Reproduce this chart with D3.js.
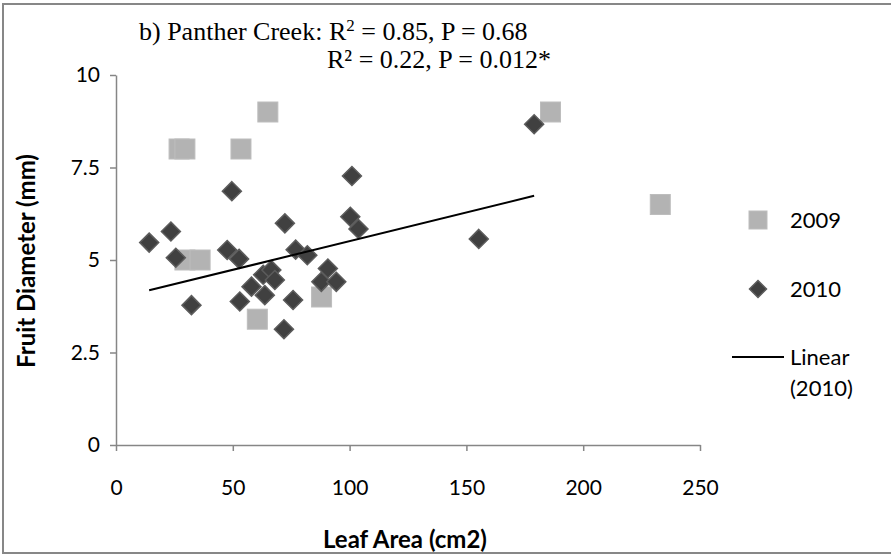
<!DOCTYPE html>
<html><head><meta charset="utf-8">
<script src="https://cdn.jsdelivr.net/npm/d3@7"></script>
<style>
body{margin:0;background:#fff;}
svg{display:block;}
</style></head>
<body>
<svg id="chart" width="891" height="556"></svg>
<script>
// ---- data ----
const leafArea2009 = [27, 29.5, 53.5, 65, 29.5, 36, 60.5, 88, 186, 233];
const fruitDiam2009 = [8, 8, 8, 9, 5, 5, 3.4, 4, 9, 6.5];

const leafArea2010 = [14.2, 23.5, 25.6, 32.3, 47.6, 49.6, 52.7, 53, 58, 63, 63.7, 66.5, 68, 71.9, 72.3, 75.8, 76.9, 81.9, 87.9, 90.7, 94.3, 100.3, 101, 103.8, 155.3, 179];
const fruitDiam2010 = [5.47, 5.77, 5.06, 3.78, 5.27, 6.86, 5.03, 3.88, 4.28, 4.6, 4.05, 4.73, 4.46, 3.13, 5.99, 3.92, 5.28, 5.13, 4.41, 4.77, 4.41, 6.17, 7.27, 5.84, 5.57, 8.67];

const trendIntercept = [3.96];
const trendSlope = [0.0155];

const xTicks = [0, 50, 100, 150, 200, 250];
const yTicks = [0, 2.5, 5, 7.5, 10];
const legendLabels = ["2009", "2010", "Linear", "(2010)"];

// ---- chart ----
const svg = d3.select("#chart");
const axisColor = "#868686";
const sansFont = "Lato, 'Open Sans', sans-serif";

// outer frame (right edge falls outside the picture)
svg.append("rect").attr("x", 3).attr("y", 4).attr("width", 900).attr("height", 549)
  .attr("fill", "none").attr("stroke", "#878787").attr("stroke-width", 2);

const x = d3.scaleLinear().domain([0, 250]).range([116, 700]);
const y = d3.scaleLinear().domain([0, 10]).range([445, 75]);

// axes
const xAxis = d3.axisBottom(x).tickValues(xTicks).tickSize(6).tickSizeOuter(0).tickPadding(29).tickFormat(d3.format("d"));
const yAxis = d3.axisLeft(y).tickValues(yTicks).tickSize(6).tickSizeOuter(0).tickPadding(10).tickFormat(d => String(d));

const gx = svg.append("g").attr("transform", `translate(0,${y(0)})`).call(xAxis);
const gy = svg.append("g").attr("transform", `translate(${x(0)},0)`).call(yAxis);
[gx, gy].forEach(g => {
  g.select(".domain").attr("stroke", axisColor).attr("stroke-width", 1.5);
  g.selectAll(".tick line").attr("stroke", axisColor).attr("stroke-width", 1.5);
  g.selectAll(".tick text").attr("fill", "#000").style("font-family", sansFont).style("font-size", "21px");
});

// axis titles
svg.append("text").attr("x", 323).attr("y", 548).attr("text-anchor", "start")
  .style("font-family", sansFont).style("font-size", "24px").style("font-weight", "bold")
  .text("Leaf Area (cm2)");
svg.append("text").attr("transform", "translate(35,261) rotate(-90)").attr("text-anchor", "middle")
  .style("font-family", sansFont).style("font-size", "24px").style("font-weight", "bold")
  .text("Fruit Diameter (mm)");

// title
const serif = "'Liberation Serif', 'Times New Roman', serif";
const t1 = svg.append("text").attr("x", 139).attr("y", 40)
  .style("font-family", serif).style("font-size", "26px").attr("fill", "#000");
t1.append("tspan").text("b) Panther Creek: R");
t1.append("tspan").attr("dy", -9).style("font-size", "17px").text("2");
t1.append("tspan").attr("dy", 9).text(" = 0.85, P = 0.68");
svg.append("text").attr("x", 327).attr("y", 68)
  .style("font-family", serif).style("font-size", "26px").attr("fill", "#000")
  .text("R² = 0.22, P = 0.012*");

// 2009 squares
const sq = 20;
svg.append("g").selectAll("rect").data(leafArea2009.map((v, i) => [v, fruitDiam2009[i]]))
  .join("rect")
  .attr("x", d => x(d[0]) - sq / 2).attr("y", d => y(d[1]) - sq / 2)
  .attr("width", sq).attr("height", sq)
  .attr("fill", "#b3b3b3").attr("stroke", "#bdbdbd").attr("stroke-width", 1);

// 2010 diamonds
const dm = 9.5;
const diamondPath = `M0,${-dm}L${dm},0L0,${dm}L${-dm},0Z`;
svg.append("g").selectAll("path").data(leafArea2010.map((v, i) => [v, fruitDiam2010[i]]))
  .join("path")
  .attr("transform", d => `translate(${x(d[0])},${y(d[1])})`)
  .attr("d", diamondPath)
  .attr("fill", "#404040").attr("stroke", "#5c5c5c").attr("stroke-width", 1.5);

// trendline
const xmin = d3.min(leafArea2010), xmax = d3.max(leafArea2010);
const line = d3.line().x(d => x(d)).y(d => y(trendIntercept[0] + trendSlope[0] * d));
svg.append("path").datum([xmin, xmax]).attr("d", line)
  .attr("stroke", "#000").attr("stroke-width", 2).attr("fill", "none");

// legend
const lg = svg.append("g");
const lx = 758;
lg.append("rect").attr("x", lx - 9).attr("y", 220 - 9).attr("width", 18).attr("height", 18)
  .attr("fill", "#b3b3b3").attr("stroke", "#bdbdbd");
const ldm = 8.5;
lg.append("path").attr("transform", `translate(${lx},289)`)
  .attr("d", `M0,${-ldm}L${ldm},0L0,${ldm}L${-ldm},0Z`)
  .attr("fill", "#404040").attr("stroke", "#5c5c5c").attr("stroke-width", 1.5);
lg.append("line").attr("x1", 732).attr("x2", 784).attr("y1", 357).attr("y2", 357)
  .attr("stroke", "#000").attr("stroke-width", 2);
const ly = [228, 297, 365, 396];
legendLabels.forEach((t, i) => {
  lg.append("text").attr("x", 790).attr("y", ly[i])
    .style("font-family", sansFont).style("font-size", "22px").attr("fill", "#000").text(t);
});
</script>
</body></html>
